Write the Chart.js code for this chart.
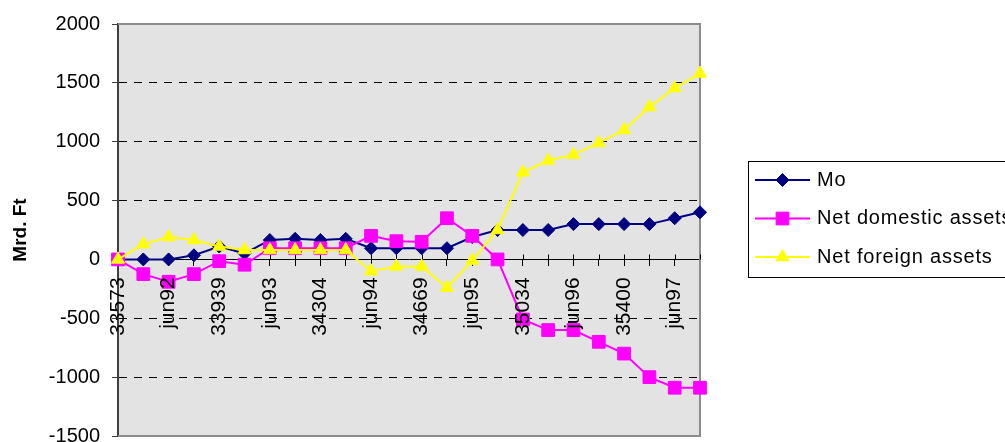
<!DOCTYPE html>
<html>
<head>
<meta charset="utf-8">
<script src="https://cdn.jsdelivr.net/npm/chart.js@4/dist/chart.umd.min.js"></script>
<style>
  html, body { margin: 0; padding: 0; background: #fff; overflow: hidden; width: 1005px; height: 442px; }
  #wrap { position: absolute; left: 0; top: 0; width: 1060px; height: 460px; }
</style>
</head>
<body>
<div id="wrap"><canvas id="c" width="1060" height="460"></canvas></div>
<script>
// Quarterly observations, Dec 1991 - Sep 1997
const categories = [
  'dec91', 'mar92', 'jun92', 'sep92', 'dec92', 'mar93', 'jun93', 'sep93',
  'dec93', 'mar94', 'jun94', 'sep94', 'dec94', 'mar95', 'jun95', 'sep95',
  'dec95', 'mar96', 'jun96', 'sep96', 'dec96', 'mar97', 'jun97', 'sep97'
];
// Axis labels shown on every second quarter
const tickLabels = ['33573', 'jun92', '33939', 'jun93', '34304', 'jun94',
                    '34669', 'jun95', '35034', 'jun96', '35400', 'jun97'];

const seriesNames = ['Mo', 'Net domestic assets', 'Net foreign assets'];

// Mrd. Ft
const moValues = [0, 0, 0, 35, 110, 50, 165, 175, 165, 175, 95, 95,
                  95, 95, 190, 250, 250, 250, 300, 300, 300, 300, 350, 400];
const netDomestic = [0, -125, -190, -125, -15, -45, 95, 95, 95, 95, 200, 155,
                     150, 350, 200, 0, -510, -600, -600, -700, -800, -1000, -1090, -1090];
const netForeign = [0, 130, 190, 165, 110, 80, 80, 80, 80, 80, -100, -60,
                    -60, -240, -10, 250, 740, 840, 890, 990, 1100, 1295, 1455, 1580];

const yMin = -1500, yMax = 2000, yStep = 500;

Chart.defaults.font.family = '"Liberation Sans", Arial, sans-serif';
Chart.defaults.color = '#000';

// Grey plot area with its frame and the short tick marks above the zero line
const plotFrame = {
  id: 'plotFrame',
  beforeDraw(chart) {
    const { ctx, chartArea: a } = chart;
    ctx.save();
    ctx.fillStyle = '#e3e3e3';
    ctx.fillRect(a.left, a.top, a.right - a.left, a.bottom - a.top);
    ctx.restore();
  },
  beforeDatasetsDraw(chart) {
    const { ctx, chartArea: a, scales } = chart;
    ctx.save();
    ctx.strokeStyle = '#8c8c8c';
    ctx.lineWidth = 2;
    ctx.beginPath();
    ctx.moveTo(a.left, a.top);
    ctx.lineTo(a.right, a.top);
    ctx.lineTo(a.right, a.bottom);
    ctx.lineTo(a.left, a.bottom);
    ctx.stroke();
    const y0 = Math.round(scales.y.getPixelForValue(0)) + 0.5;
    ctx.strokeStyle = '#000';
    ctx.lineWidth = 1;
    ctx.beginPath();
    scales.x.ticks.forEach((t, i) => {
      const x = Math.round(scales.x.getPixelForTick(i)) + 0.5;
      ctx.moveTo(x, y0 - 5);
      ctx.lineTo(x, y0);
    });
    ctx.stroke();
    ctx.restore();
  }
};

// Boxed legend with line-and-marker samples, right of the plot
const sideLegend = {
  id: 'sideLegend',
  afterDraw(chart) {
    const { ctx, chartArea } = chart;
    const left = Math.round(chartArea.right) + 48;
    const top = 161, w = 300, h = 116;
    ctx.save();
    ctx.fillStyle = '#fff';
    ctx.fillRect(left, top, w, h);
    ctx.strokeStyle = '#000';
    ctx.lineWidth = 1;
    ctx.strokeRect(left + 0.5, top + 0.5, w, h);
    chart.data.datasets.forEach((ds, i) => {
      const y = top + 19 + i * 38.5;
      ctx.strokeStyle = ds.borderColor;
      ctx.lineWidth = 2;
      ctx.beginPath();
      ctx.moveTo(left + 7, y);
      ctx.lineTo(left + 62, y);
      ctx.stroke();
      ctx.fillStyle = ds.pointBackgroundColor;
      ctx.strokeStyle = ds.pointBorderColor;
      ctx.lineWidth = 1;
      Chart.helpers.drawPoint(ctx, {
        pointStyle: ds.pointStyle, radius: ds.pointRadius, rotation: 0, borderWidth: 1
      }, left + 34.5, y);
      ctx.fillStyle = '#000';
      ctx.font = '20px "Liberation Sans", Arial, sans-serif';
      if ('letterSpacing' in ctx) ctx.letterSpacing = '0.8px';
      ctx.textBaseline = 'middle';
      ctx.textAlign = 'left';
      ctx.fillText(ds.label, left + 69, y);
    });
    ctx.restore();
  }
};

const hiddenGrid = v => v === 0 || v === yMin || v === yMax;

new Chart(document.getElementById('c'), {
  type: 'line',
  data: {
    labels: categories,
    datasets: [
      {
        label: seriesNames[0], data: moValues, order: 3,
        borderColor: '#000080', backgroundColor: '#000080', borderWidth: 2,
        pointStyle: 'rectRot', pointRadius: 6.5,
        pointBackgroundColor: '#000080', pointBorderColor: '#000080', pointBorderWidth: 1,
        tension: 0, clip: false
      },
      {
        label: seriesNames[1], data: netDomestic, order: 2,
        borderColor: '#ff00ff', backgroundColor: '#ff00ff', borderWidth: 2,
        pointStyle: 'rect', pointRadius: 9,
        pointBackgroundColor: '#ff00ff', pointBorderColor: '#ff00ff', pointBorderWidth: 1,
        tension: 0, clip: false
      },
      {
        label: seriesNames[2], data: netForeign, order: 1,
        borderColor: '#ffff00', backgroundColor: '#ffff00', borderWidth: 2,
        pointStyle: 'triangle', pointRadius: 7.5,
        pointBackgroundColor: '#ffff00', pointBorderColor: '#ffff00', pointBorderWidth: 1,
        tension: 0, clip: false
      }
    ]
  },
  options: {
    responsive: false,
    animation: false,
    devicePixelRatio: 1,
    layout: { padding: { left: 5, top: 24, right: 360, bottom: 23 } },
    plugins: { legend: { display: false }, tooltip: { enabled: false } },
    scales: {
      x: {
        type: 'category',
        position: { y: 0 },
        offset: false,
        grid: { drawOnChartArea: false, drawTicks: true, tickLength: 6, tickColor: '#000', tickWidth: 1 },
        border: { display: true, color: '#000', width: 1 },
        ticks: {
          z: 1,
          autoSkip: false, minRotation: 90, maxRotation: 90, padding: 12,
          color: '#000', font: { size: 21 },
          callback: (v, i) => (i % 2 === 0 ? tickLabels[i / 2] : '')
        },
        afterFit: s => { s.height = 0; }
      },
      y: {
        min: yMin, max: yMax,
        ticks: {
          stepSize: yStep, color: '#000', font: { size: 20 }, padding: 12,
          callback: v => String(v)
        },
        grid: {
          color: c => (c.tick && hiddenGrid(c.tick.value)) ? 'rgba(0,0,0,0)' : '#000',
          lineWidth: 1, tickColor: '#404040', tickLength: 6, tickWidth: 1
        },
        border: { display: true, color: '#404040', width: 2, dash: [8, 7] },
        title: {
          display: true, text: 'Mrd. Ft', color: '#000',
          font: { size: 19, weight: 'bold' }, padding: { top: 4, bottom: 0 }
        },
        afterFit: s => { s.width = 113; }
      }
    }
  },
  plugins: [plotFrame, sideLegend]
});
</script>
</body>
</html>
